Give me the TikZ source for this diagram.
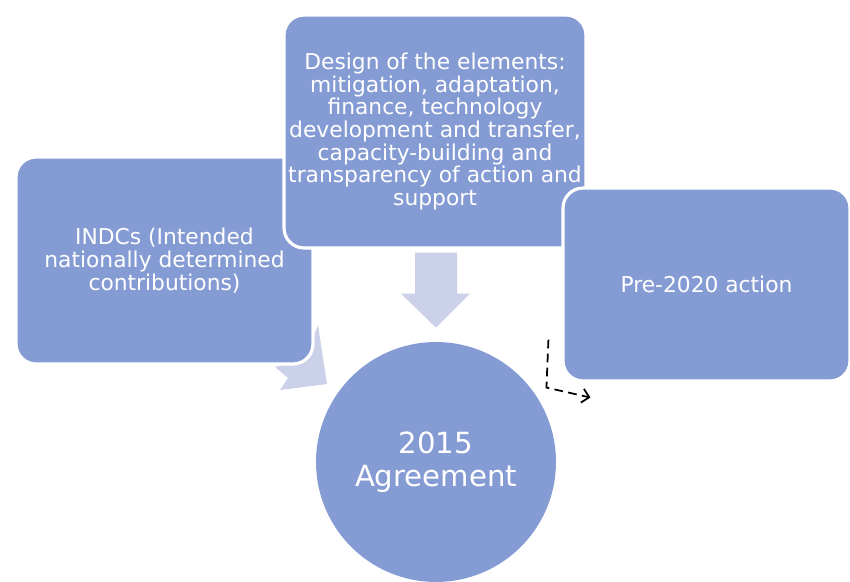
\documentclass[tikz,border=0pt]{standalone}
\usepackage{fontspec}
\setmainfont{DejaVu Sans}
\usetikzlibrary{arrows.meta, positioning, calc}
\definecolor{boxblue}{RGB}{133,155,211}
\definecolor{arrowblue}{RGB}{203,209,233}

\begin{document}
\begin{tikzpicture}[x=0.02cm, y=-0.02cm, >=Stealth,
    box/.style={rectangle, rounded corners=0.4cm, fill=boxblue, draw=white,
      line width=1.8pt, text=white, align=center, inner sep=0pt,
      font=\fontsize{12.4}{12.9}\selectfont}]
  \useasboundingbox (0,0) rectangle (850,582);
  % Curved arrow peeking out below the INDCs box
  \fill[arrowblue] (318,325) -- (327,384) -- (280,390) -- (288,378)
    -- (275,367) -- (305,358) -- cycle;
  % Boxes
  \node[box, minimum width=5.94cm, minimum height=4.14cm]
    (indc) at (164.5,260.5) {INDCs (Intended\\nationally determined\\contributions)};
  \node[box, minimum width=6.04cm, minimum height=4.66cm]
    (design) at (435,131.5) {Design of the elements:\\mitigation, adaptation,\\
    finance, technology\\development and transfer,\\capacity-building and\\
    transparency of action and\\support};
  \node[box, minimum width=5.74cm, minimum height=3.86cm]
    (pre) at (706.5,284.5) {Pre-2020 action};
  % Centre
  \node[circle, fill=boxblue, minimum size=4.8cm, inner sep=0pt, text=white,
    align=center, font=\fontsize{16.6}{18.7}\selectfont]
    (agree) at (436,462) {2015\\Agreement};
  % Down arrow
  \coordinate (tip) at ($(agree.north)+(0,-14)$);
  \fill[arrowblue] (tip) -- ++(-35,-34) -- ++(14,0) -- ++(0,-41) -- ++(42,0)
    -- ++(0,41) -- ++(13,0) -- cycle;
  % Dashed link
  \coordinate (dashstart) at ($(pre.south west)+(-13,-43)$);
  \coordinate (dashend) at ($(pre.south west)+(29,15)$);
  \draw[dashed, line width=1pt, dash pattern=on 5pt off 3pt,
    -{Straight Barb[length=4pt, width=8pt]}]
    (dashstart) -- ++(-2,48) -- (dashend);
\end{tikzpicture}
\end{document}
